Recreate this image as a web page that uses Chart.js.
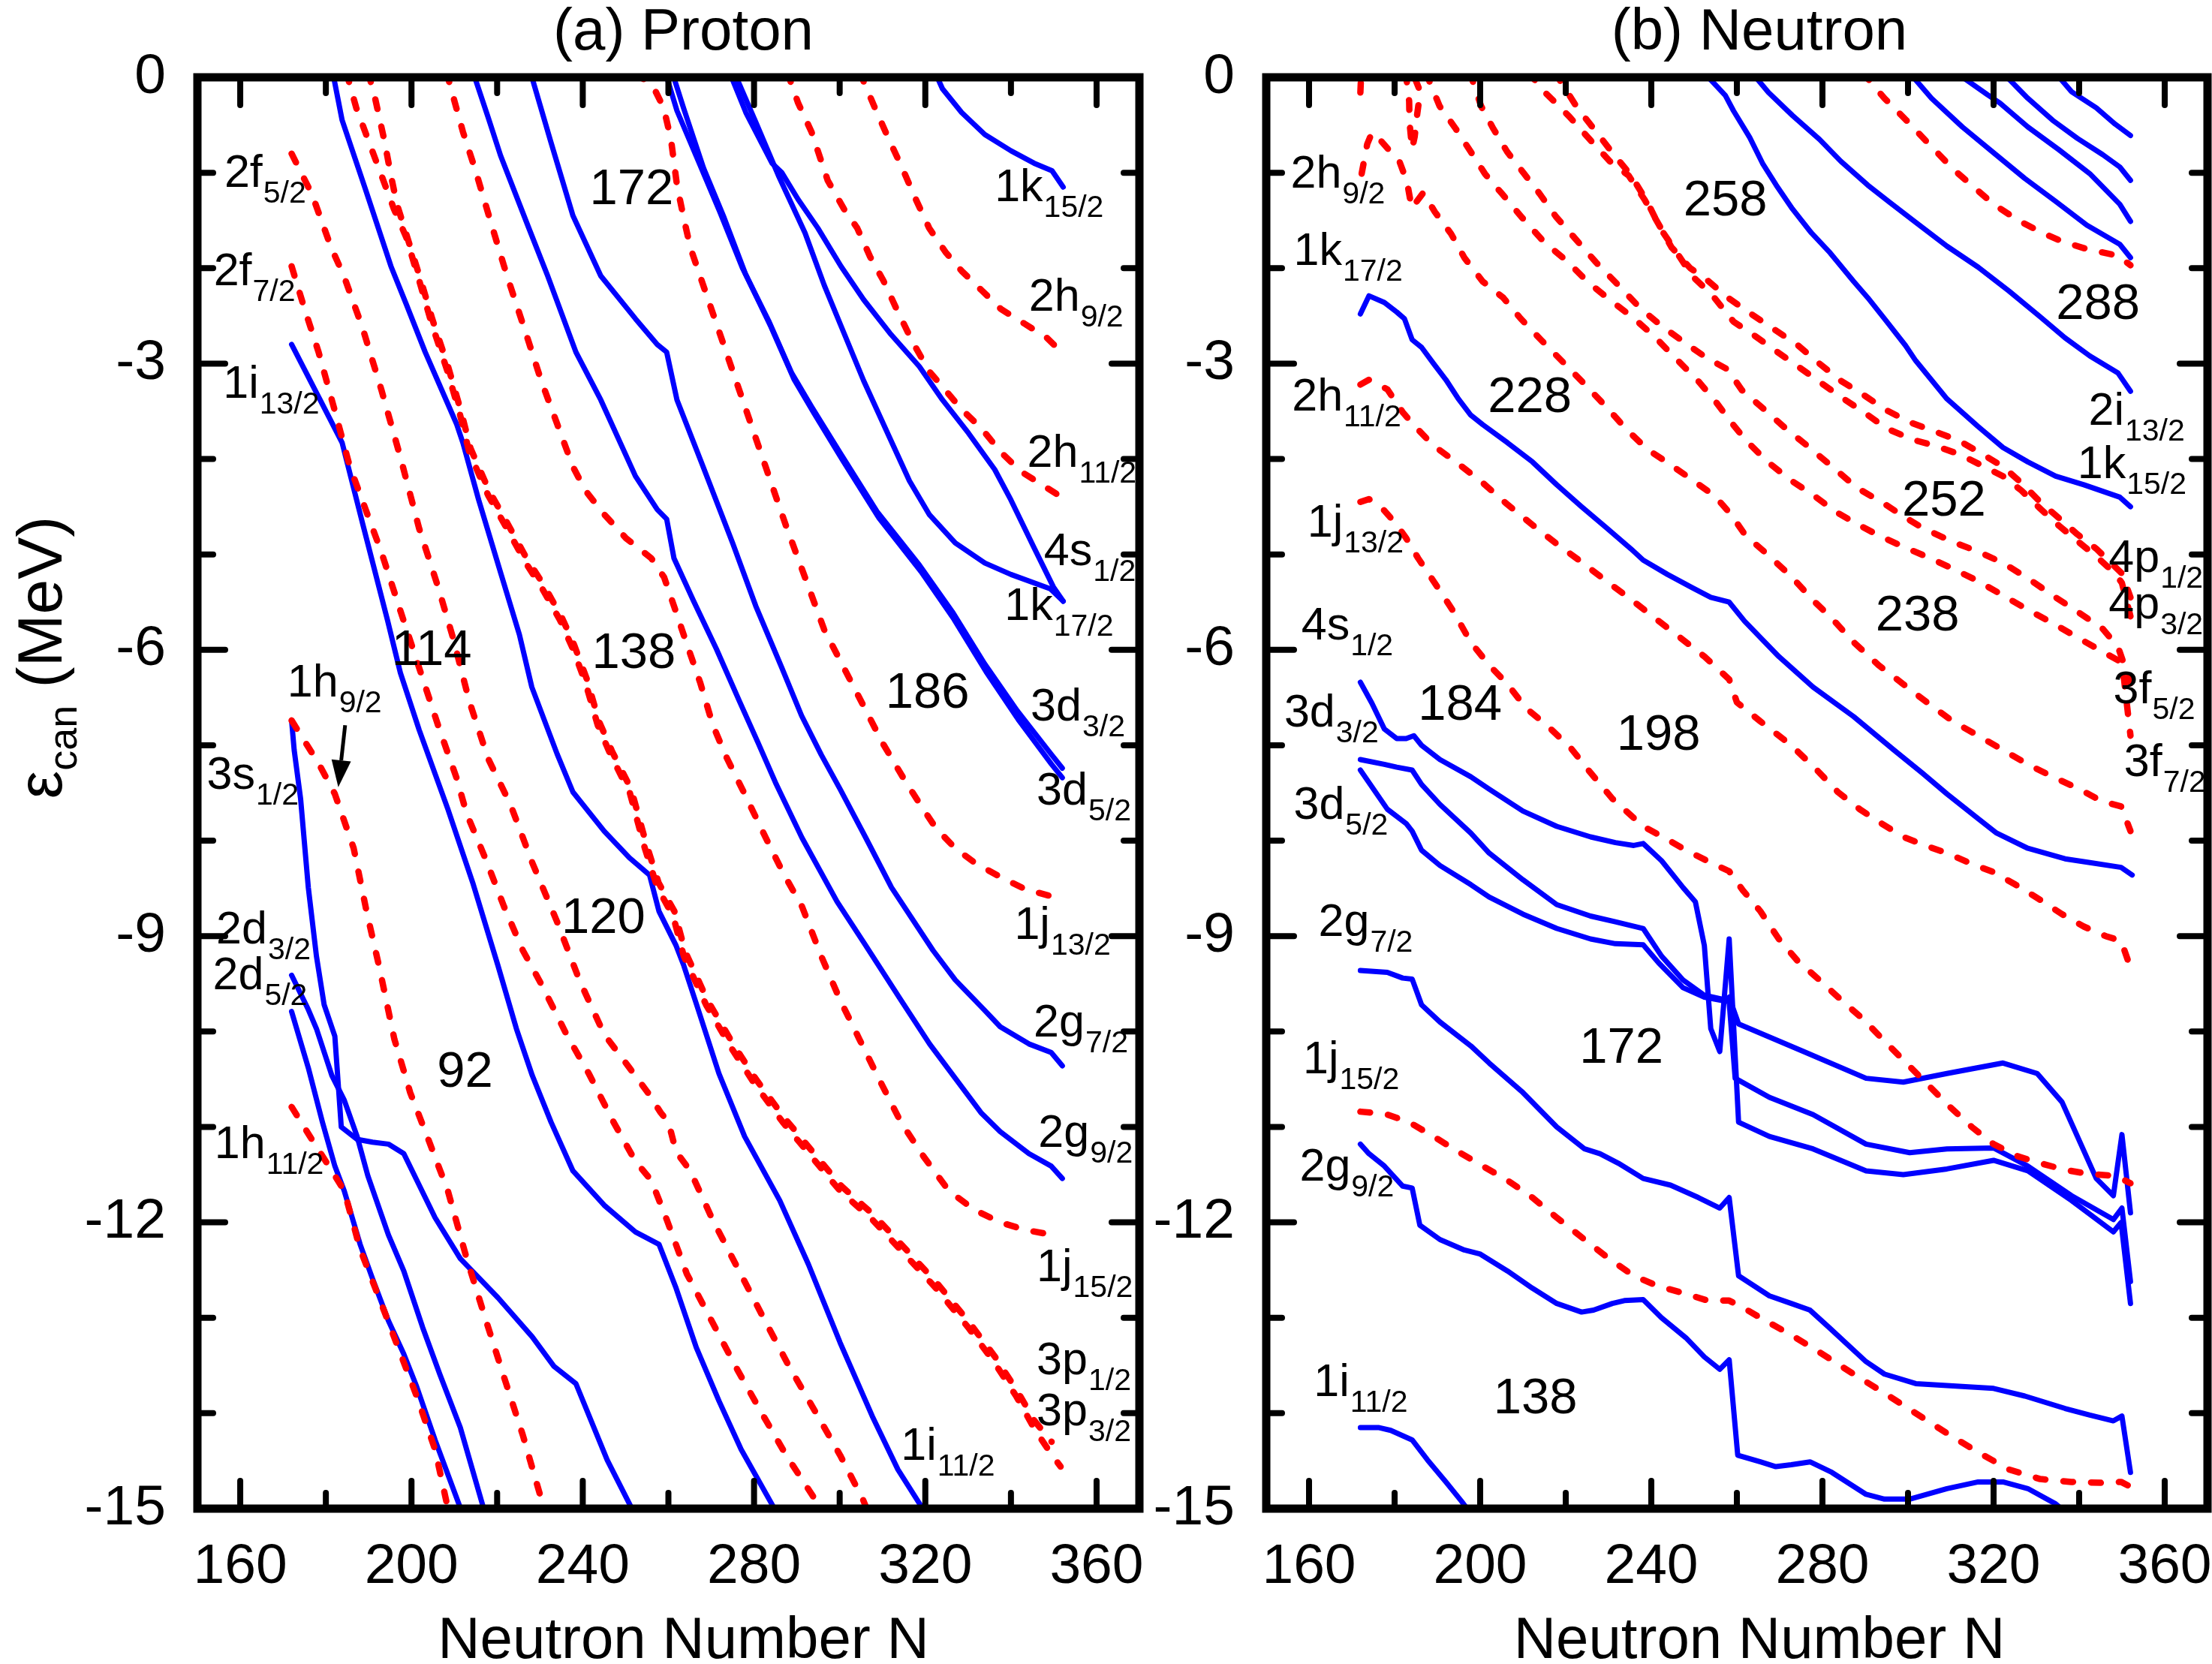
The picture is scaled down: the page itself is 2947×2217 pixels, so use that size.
<!DOCTYPE html>
<html>
<head>
<meta charset="utf-8">
<script src="https://cdn.jsdelivr.net/npm/chart.js@4.4.1/dist/chart.umd.min.js"></script>
<style>
html, body { margin: 0; padding: 0; background: #fff; }
#wrap { position: relative; width: 2947px; height: 2217px; }
canvas { position: absolute; left: 0; top: 0; }
</style>
</head>
<body>
<div id="wrap">
  <canvas id="proton" width="2947" height="2217"></canvas>
  <canvas id="neutron" width="2947" height="2217"></canvas>
</div>
<script>
// tick labels
var xTicks = [160, 200, 240, 280, 320, 360];
var yTicks = [-15, -12, -9, -6, -3, 0];

// ---- (a) proton levels: [N, energy] ----
var p2f52 = [[172,-0.8],[176.8,-1.23],[181.2,-1.78],[184.2,-2.08],[188.6,-2.63],[193,-3.28],[197.4,-3.98],[201.8,-4.73],[206.2,-5.34],[209.8,-5.89],[213.5,-6.54],[217.9,-7.14],[223.1,-7.62],[228.2,-8.23],[234,-8.85],[239.2,-9.46],[245,-10.03],[250.9,-10.38],[255.2,-10.64],[258.2,-10.85],[260,-10.95],[261.8,-11.26],[265.1,-11.46],[270.3,-11.97],[276.3,-12.49],[282.2,-13.0],[288.2,-13.51],[294.9,-14.03],[300.1,-14.44],[305.4,-14.9],[307.2,-15.1]];
var p2f72 = [[172,-1.98],[174.7,-2.38],[178.3,-2.88],[182,-3.48],[185.6,-4.08],[189.3,-4.53],[193,-4.98],[197.4,-5.59],[201.8,-6.19],[206.2,-6.79],[210.5,-7.34],[212.9,-7.72],[217.2,-8.18],[221.6,-8.69],[226,-9.15],[230.4,-9.51],[236.2,-10.03],[241.4,-10.44],[247.2,-10.95],[252.3,-11.36],[256,-11.56],[259.6,-11.97],[264.3,-12.54],[270.3,-13.05],[276.3,-13.56],[282.2,-14.03],[287.5,-14.44],[294.2,-14.9],[296,-15.1]];
var p3p32 = [[184.8,0.05],[187.1,-0.32],[190,-0.67],[193,-1.03],[195.9,-1.38],[198.8,-1.68],[201.8,-2.13],[204.7,-2.58],[208.4,-3.08],[211.3,-3.53],[213.5,-3.93],[217.9,-4.38],[222.3,-4.73],[226.7,-5.09],[230.3,-5.34],[234.7,-5.69],[237.7,-5.99],[240.6,-6.34],[243.5,-6.79],[246.5,-7.1],[251,-7.5],[254.5,-8.08],[257.4,-8.49],[261.1,-8.79],[263.6,-9.21],[268.8,-9.72],[274.8,-10.18],[280,-10.54],[286.7,-10.95],[293.4,-11.31],[300.1,-11.67],[307.6,-11.97],[315.1,-12.33],[322.5,-12.69],[330,-13.1],[336,-13.46],[341.2,-13.82],[345.7,-14.18],[348.7,-14.38],[351.6,-14.56]];
var p3p12 = [[189.9,0.05],[191.5,-0.22],[193.7,-0.67],[195.2,-1.03],[196.6,-1.33],[198.9,-1.66],[202,-2.1],[204.9,-2.54],[208.6,-3.04],[211.5,-3.49],[213.8,-3.89],[218.2,-4.34],[222.6,-4.69],[227,-5.05],[230.6,-5.3],[235,-5.65],[238,-5.95],[240.9,-6.3],[243.8,-6.75],[246.8,-7.06],[251.3,-7.46],[254.8,-8.03],[257.7,-8.44],[261.4,-8.74],[263.9,-9.16],[269.1,-9.67],[275.1,-10.13],[280.3,-10.49],[287,-10.9],[293.7,-11.26],[300.4,-11.62],[307.9,-11.92],[315.4,-12.28],[322.8,-12.64],[330.3,-13.05],[336.3,-13.41],[341.5,-13.77],[345.5,-14.08],[349.5,-14.3]];
var p1j152 = [[208.2,0.05],[212,-0.57],[214.9,-0.97],[218.6,-1.53],[222.3,-2.08],[226.7,-2.68],[230.3,-3.18],[234,-3.63],[237.7,-4.08],[240.6,-4.33],[245,-4.58],[250.1,-4.83],[256,-5.04],[259,-5.24],[261.3,-5.54],[264.3,-5.94],[267.4,-6.34],[270.4,-6.79],[273.5,-7.12],[277.8,-7.51],[282.2,-7.92],[286.7,-8.33],[291.2,-8.69],[295.7,-9.21],[300.1,-9.67],[304.6,-10.08],[309.1,-10.49],[314.3,-10.95],[319.6,-11.31],[325.5,-11.67],[331.5,-11.87],[337.5,-12.0],[343.4,-12.08],[349.6,-12.13]];
var p1j132 = [[252.5,0.05],[256.7,-0.12],[258.9,-0.32],[260.6,-0.65],[262,-1.13],[263.6,-1.48],[265.1,-1.78],[268.9,-2.28],[273.5,-2.88],[278.1,-3.48],[282.7,-4.08],[287.3,-4.68],[291.9,-5.24],[296.4,-5.79],[301,-6.19],[305.6,-6.59],[310.2,-6.99],[315.1,-7.36],[318.8,-7.62],[322.5,-7.87],[327,-8.08],[331.5,-8.23],[337.5,-8.38],[343.4,-8.51],[350.1,-8.59]];
var p2h112 = [[287.8,0.05],[290.3,-0.27],[293.4,-0.57],[297.2,-1.08],[301,-1.38],[304.1,-1.58],[307.1,-1.88],[310.2,-2.13],[313.3,-2.43],[317.1,-2.78],[320.9,-3.08],[324.7,-3.28],[328.5,-3.48],[333.1,-3.68],[337.7,-3.93],[342.3,-4.13],[347.6,-4.28],[352.2,-4.41]];
var p2h92 = [[304.7,0.05],[308.7,-0.37],[311.7,-0.67],[314.8,-0.97],[317.8,-1.28],[320.9,-1.58],[324.7,-1.83],[328.5,-2.03],[333.1,-2.23],[337.7,-2.43],[343.1,-2.58],[348.4,-2.73],[352.2,-2.9]];
var p1h92 = [[172,-6.74],[178.3,-7.19],[182.1,-7.51],[186.5,-8.08],[189.5,-8.74],[192.4,-9.31],[196,-10.08],[199.7,-10.64],[204.1,-11.15],[208.5,-11.67],[212.9,-12.38],[217.2,-13.0],[221.6,-13.62],[226,-14.23],[231.6,-15.1]];
var p1h112 = [[172,-10.79],[176.3,-11.1],[181.4,-11.46],[184.3,-11.67],[188,-12.28],[193.8,-12.95],[201.2,-13.82],[205.5,-14.38],[209,-15.1]];

var p1i132 = [[172,-2.8],[179.8,-3.48],[183.8,-3.83],[188.6,-4.68],[194.4,-5.69],[197.4,-6.24],[201.8,-6.84],[208.5,-7.67],[214.3,-8.44],[220.2,-9.31],[224.5,-9.97],[228.2,-10.46],[232.6,-10.95],[237.7,-11.46],[245,-11.82],[252.3,-12.1],[257.8,-12.23],[261.8,-12.69],[266.5,-13.31],[271.8,-13.87],[277,-14.38],[286,-15.1]];
var p1i112 = [[181.4,0.1],[183.8,-0.45],[189.3,-1.18],[195.2,-1.98],[198.8,-2.38],[203.2,-2.88],[210.5,-3.63],[212,-3.83],[215.7,-4.43],[220.8,-5.19],[225.2,-5.84],[228.1,-6.39],[234,-7.09],[237.7,-7.49],[245,-7.9],[250.9,-8.18],[255.6,-8.36],[257.8,-8.74],[261.8,-9.1],[263.6,-9.31],[266.6,-9.72],[271.8,-10.44],[277.8,-11.1],[286,-11.77],[292.7,-12.44],[300.1,-13.26],[307.6,-14.03],[313.6,-14.59],[320.8,-15.1]];
var p2g92 = [[214.4,0.05],[217.9,-0.42],[220.8,-0.82],[227.4,-1.58],[231.8,-2.08],[238.4,-2.88],[244.2,-3.38],[252.3,-4.18],[257.4,-4.53],[259.6,-4.63],[261.3,-5.04],[265.9,-5.49],[271.2,-5.99],[276.6,-6.54],[281,-6.98],[285.2,-7.41],[291.2,-7.97],[299.4,-8.64],[306.1,-9.1],[314.3,-9.67],[321,-10.13],[327,-10.49],[333,-10.85],[337.5,-11.05],[344.2,-11.28],[349.4,-11.41],[352,-11.54]];
var p2g72 = [[227.8,0.05],[232.5,-0.67],[237.7,-1.45],[244.2,-2.08],[252.3,-2.53],[257.4,-2.8],[259.6,-2.88],[262,-3.38],[268.1,-4.08],[275,-4.88],[280.4,-5.54],[286.5,-6.19],[291.1,-6.69],[295.7,-7.1],[300.1,-7.46],[306.1,-7.97],[312.1,-8.49],[321.8,-9.15],[327,-9.46],[333.7,-9.77],[337.5,-9.95],[344.2,-10.13],[349.4,-10.22],[352,-10.36]];
var p3d32 = [[259.3,0.05],[262,-0.35],[267.2,-0.9],[272,-1.41],[277.3,-2.0],[283.4,-2.55],[288.8,-3.1],[293.4,-3.45],[300.3,-3.95],[308.7,-4.55],[318.6,-5.11],[326.3,-5.6],[333.9,-6.15],[341.5,-6.64],[349.5,-7.1],[352,-7.24]];
var p3d52 = [[260.9,0.05],[263.6,-0.33],[268.2,-0.95],[273,-1.47],[278,-2.06],[284,-2.62],[289.4,-3.17],[294,-3.52],[300.8,-4.02],[309.2,-4.62],[319,-5.18],[326.7,-5.68],[334.2,-6.23],[341.7,-6.73],[349.5,-7.2],[352,-7.34]];
var p4s12 = [[274.3,0.05],[278.1,-0.37],[284.2,-0.9],[286.5,-1.0],[290.3,-1.28],[294.9,-1.58],[300.3,-1.98],[305.6,-2.33],[311.7,-2.68],[318.6,-3.03],[324,-3.38],[330.1,-3.73],[336.2,-4.11],[340,-4.43],[345.4,-4.93],[349.9,-5.34],[352.2,-5.49]];
var p1k172 = [[275.4,0.05],[280.4,-0.47],[285.7,-1.03],[291.9,-1.63],[296.4,-2.18],[301,-2.68],[305.6,-3.18],[311.7,-3.78],[316.3,-4.23],[320.9,-4.58],[327,-4.88],[333.9,-5.09],[340,-5.21],[349.2,-5.36],[352.2,-5.49]];
var p1k152 = [[322.3,0.05],[324,-0.12],[328.5,-0.37],[333.9,-0.6],[340,-0.77],[345.4,-0.9],[349.6,-0.98],[352.2,-1.15]];
var p3s12 = [[172,-6.74],[172.6,-7.05],[174.1,-7.56],[175.9,-8.49],[177.8,-9.21],[179.6,-9.72],[182.1,-10.05],[183.6,-11.0],[187.3,-11.13],[190.9,-11.16],[194.6,-11.18],[198.2,-11.28],[205.5,-11.95],[211.4,-12.38],[220.2,-12.79],[228.2,-13.2],[233.3,-13.51],[238.4,-13.69],[245.7,-14.49],[252.6,-15.1]];
var p2d32 = [[172,-9.41],[175.9,-9.77],[177.8,-9.97],[181.4,-10.46],[184.3,-10.72],[187.3,-11.1],[189.8,-11.51],[194.6,-12.13],[198.2,-12.51],[202.6,-13.1],[206.6,-13.59],[211.4,-14.15],[217.5,-15.1]];
var p2d52 = [[172,-9.79],[175.9,-10.38],[179.2,-10.95],[182.1,-11.41],[184.3,-11.67],[188,-12.23],[190.9,-12.59],[194.6,-13.03],[198.2,-13.38],[201.2,-13.72],[205.5,-14.28],[212.3,-15.1]];

// ---- (b) neutron levels ----
var n2h92 = [[172.3,-1.01],[173.6,-0.7],[174.7,-0.58],[176.5,-0.65],[180,-0.83],[181.2,-0.89],[182.6,-1.06],[183.2,-1.17],[184,-1.37],[186.7,-1.21],[189.4,-1.41],[193.2,-1.64],[196.3,-1.89],[200.6,-2.14],[205.4,-2.31],[209.5,-2.53],[214.4,-2.76],[219.7,-3.0],[224.5,-3.22],[229.6,-3.46],[234.2,-3.69],[239.1,-3.9],[244.2,-4.05],[249.6,-4.22],[254.9,-4.39],[258.6,-4.58],[262,-4.8],[266.9,-4.99],[272.7,-5.23],[277.8,-5.48],[282.2,-5.67],[287.3,-5.92],[293.1,-6.16],[298.9,-6.36],[304.7,-6.56],[310.5,-6.75],[316.4,-6.9],[322.2,-7.05],[328,-7.2],[333.8,-7.33],[339.6,-7.45],[345.5,-7.59],[349.8,-7.64],[352,-7.9]];
var nV = [[182.6,0.05],[183.4,-0.25],[183.5,-0.48],[184.1,-0.75],[184.7,-0.62],[185.3,-0.38],[186,-0.15],[184.2,0.05]];
var nEdge = [[172,-0.16],[172.2,0.05]];
var n3f72 = [[187.3,0.05],[190.5,-0.3],[194.3,-0.54],[197.8,-0.78],[201.1,-1.01],[205.1,-1.22],[209.8,-1.47],[214.8,-1.72],[220.1,-1.92],[225.3,-2.15],[230.8,-2.35],[235.8,-2.52],[240.8,-2.72],[245.8,-2.95],[250.9,-3.18],[254.9,-3.39],[258.4,-3.6],[262.2,-3.81],[267.2,-4.03],[272.5,-4.22],[277.9,-4.38],[283,-4.55],[288,-4.68],[293.1,-4.8],[298.9,-4.92],[304.7,-5.03],[310.5,-5.15],[316.4,-5.28],[322.2,-5.43],[328,-5.58],[333.8,-5.72],[339.6,-5.87],[345.5,-6.02],[349.5,-6.12],[350.5,-6.31],[352,-6.9]];
var n3f52 = [[197.6,0.05],[200.2,-0.3],[203.1,-0.54],[206.3,-0.78],[210.1,-1.0],[213.9,-1.22],[217.7,-1.46],[222.4,-1.7],[227.1,-1.94],[232.1,-2.17],[237.2,-2.41],[242.2,-2.6],[247.5,-2.77],[252.9,-2.94],[257.8,-3.06],[261.2,-3.28],[266.4,-3.48],[271.4,-3.68],[276.7,-3.87],[282,-4.07],[288,-4.3],[294.5,-4.47],[298.9,-4.6],[303.3,-4.72],[310.5,-4.87],[316.4,-4.97],[322.2,-5.09],[328,-5.25],[334.5,-5.45],[339.6,-5.6],[345.5,-5.78],[349.1,-5.97],[352,-6.35]];
var n4p12 = [[211.3,0.05],[215.2,-0.16],[220.8,-0.41],[225.8,-0.66],[230.3,-0.88],[234.7,-1.03],[238.4,-1.28],[241.6,-1.53],[244.7,-1.78],[249.1,-2.0],[252.9,-2.12],[257.9,-2.31],[263,-2.47],[268,-2.62],[274.3,-2.81],[279.3,-3.0],[284.3,-3.18],[290,-3.34],[295,-3.49],[300.7,-3.62],[306.2,-3.71],[312,-3.81],[317.8,-3.96],[322.2,-4.08],[326.5,-4.25],[330.9,-4.45],[335.3,-4.62],[339.6,-4.79],[344,-4.94],[348.4,-5.13],[350,-5.2],[352,-5.45]];
var n4p32 = [[217.5,0.05],[222.7,-0.32],[227.1,-0.57],[230.9,-0.79],[235.3,-1.03],[239.1,-1.31],[242.2,-1.59],[246,-1.84],[249.7,-2.09],[254.2,-2.28],[259.2,-2.56],[264.2,-2.71],[269.2,-2.87],[274.3,-3.03],[279.9,-3.21],[285,-3.37],[290,-3.52],[295,-3.68],[301.3,-3.8],[306.2,-3.86],[312,-3.95],[317.8,-4.08],[322.2,-4.18],[326.5,-4.33],[330.9,-4.52],[335.3,-4.7],[339.6,-4.86],[344,-5.02],[348.4,-5.2],[350,-5.3],[352,-5.65]];
var n2f52 = [[289.4,0.05],[294.5,-0.22],[299.6,-0.45],[304.7,-0.69],[310.5,-0.96],[315.6,-1.16],[320,-1.33],[325.8,-1.5],[330.9,-1.62],[336,-1.72],[341.8,-1.8],[349.1,-1.87],[352,-1.97]];
var n2h112 = [[172,-3.22],[174,-3.17],[178.3,-3.27],[181.9,-3.51],[184.8,-3.66],[189.1,-3.86],[194.9,-4.05],[200.6,-4.25],[206.2,-4.47],[212.2,-4.69],[217.9,-4.89],[223.7,-5.08],[229.5,-5.28],[235.2,-5.47],[240.9,-5.67],[246.7,-5.87],[252.4,-6.07],[258.2,-6.31],[260,-6.55],[265.5,-6.75],[272.7,-7.0],[278.5,-7.25],[283.6,-7.49],[288.7,-7.67],[293.8,-7.82],[298.9,-7.96],[304,-8.05],[309.1,-8.13],[314.2,-8.23],[320,-8.33],[325.1,-8.46],[330.9,-8.62],[336,-8.77],[341.1,-8.9],[346.2,-9.0],[349.8,-9.05],[352,-9.33]];
var n1j132 = [[172,-4.45],[174,-4.42],[177.6,-4.54],[180.5,-4.69],[182.7,-4.83],[185.5,-5.04],[189.1,-5.28],[193.5,-5.58],[197.8,-5.92],[202.1,-6.16],[206.4,-6.36],[210.7,-6.61],[215.8,-6.8],[221.2,-7.03],[225.1,-7.25],[230.9,-7.56],[238.1,-7.85],[243.1,-7.97],[248.1,-8.1],[253.9,-8.23],[258.2,-8.32],[261.4,-8.52],[265.5,-8.74],[269.8,-9.03],[274.2,-9.26],[279.3,-9.46],[284.4,-9.67],[289.5,-9.87],[294.5,-10.1],[299.6,-10.33],[304.7,-10.56],[309.8,-10.79],[314.9,-11.0],[320,-11.18],[325.8,-11.31],[330.9,-11.38],[336.7,-11.45],[341.8,-11.49],[347.6,-11.51],[349.8,-11.54],[352,-11.59]];
var n1j152 = [[172,-10.84],[177.6,-10.86],[183.4,-10.95],[189.1,-11.1],[194.9,-11.26],[200.6,-11.41],[206.4,-11.56],[212.2,-11.74],[217.9,-11.95],[224.4,-12.18],[230.1,-12.38],[235.9,-12.56],[241.7,-12.67],[247.4,-12.74],[253.2,-12.82],[258.2,-12.82],[261.7,-12.9],[265.5,-13.0],[272.7,-13.18],[280,-13.38],[287.3,-13.59],[294.5,-13.79],[301.8,-14.0],[309.1,-14.21],[316.4,-14.41],[323.6,-14.59],[330.9,-14.69],[338.2,-14.72],[345.5,-14.73],[349.8,-14.72],[352,-14.77]];

var n1k172 = [[172,-2.48],[174,-2.29],[177.6,-2.36],[180.5,-2.46],[182.3,-2.53],[184.1,-2.75],[186.3,-2.83],[189.1,-3.0],[192,-3.17],[194.9,-3.37],[197.8,-3.54],[200.6,-3.64],[206.4,-3.83],[212.2,-4.03],[217.9,-4.27],[223.7,-4.5],[229.5,-4.72],[235.2,-4.94],[238.1,-5.06],[243.8,-5.21],[249.6,-5.35],[253.9,-5.45],[258.2,-5.5],[261.8,-5.7],[269.8,-6.07],[277.8,-6.39],[287.3,-6.7],[296.7,-7.05],[303.3,-7.29],[309.1,-7.51],[316.4,-7.77],[320.7,-7.92],[328,-8.08],[336.7,-8.19],[342.5,-8.23],[349.8,-8.28],[352.4,-8.36]];
var n1k152 = [[252.3,0.05],[257.3,-0.19],[259.2,-0.35],[263,-0.63],[266.1,-0.91],[269.2,-1.13],[273,-1.38],[277.4,-1.63],[281.8,-1.84],[287.3,-2.14],[290.6,-2.31],[294.5,-2.53],[299.4,-2.81],[301.8,-2.97],[309.1,-3.37],[316.4,-3.66],[322.2,-3.88],[328,-4.03],[334.5,-4.18],[341.1,-4.27],[349.5,-4.4],[352,-4.5]];
var n2i132 = [[263.5,0.05],[267.4,-0.16],[273,-0.4],[279.3,-0.65],[284.3,-0.88],[290.6,-1.13],[295.7,-1.31],[301.8,-1.52],[309.1,-1.77],[316.4,-1.99],[323.6,-2.24],[330.9,-2.51],[336.7,-2.73],[342.5,-2.92],[349.1,-3.1],[352,-3.29]];
var n3g92 = [[300.3,0.05],[305.5,-0.22],[312.7,-0.52],[320,-0.79],[327.3,-1.06],[334.5,-1.3],[341.8,-1.55],[349.5,-1.75],[352,-1.89]];
var n2j132 = [[311.2,0.05],[318.5,-0.18],[321.5,-0.27],[328,-0.52],[335.3,-0.76],[342.5,-1.01],[349.5,-1.33],[352,-1.51]];
var n1l192 = [[322.1,0.05],[328,-0.22],[333.8,-0.45],[339.6,-0.64],[345.5,-0.81],[349.5,-0.94],[352,-1.08]];
var n2j152 = [[334.4,0.05],[338.2,-0.15],[344,-0.32],[348.4,-0.49],[352,-0.61]];
var n4s12 = [[172,-6.34],[174.7,-6.56],[177.6,-6.83],[180.5,-6.93],[182.7,-6.93],[184.5,-6.9],[186.3,-7.0],[190.6,-7.15],[197.8,-7.33],[202.1,-7.46],[210,-7.69],[217.9,-7.85],[225.8,-7.96],[231.6,-8.02],[235.9,-8.05],[238.1,-8.03],[242.4,-8.21],[247.4,-8.49],[250.3,-8.64],[252.4,-9.1],[253.9,-9.97],[256,-10.21],[258.2,-9.03],[260.4,-10.95],[267.6,-11.1],[277.8,-11.23],[290.2,-11.46],[298.9,-11.5],[309.1,-11.44],[320,-11.35],[328,-11.46],[338.2,-11.77],[348,-12.1],[349.8,-12.0],[352,-12.85]];
var n3d32 = [[172,-7.15],[177.6,-7.2],[180.5,-7.23],[184.1,-7.26],[186.3,-7.41],[190.6,-7.62],[197.8,-7.92],[202.1,-8.13],[210,-8.41],[217.9,-8.67],[225.8,-8.79],[231.6,-8.85],[238.1,-8.92],[242.4,-9.21],[247.4,-9.46],[252.4,-9.62],[257.5,-9.67],[258.2,-9.64],[260.4,-9.92],[275.6,-10.21],[290.2,-10.49],[298.9,-10.53],[309.1,-10.44],[322.2,-10.33],[330.2,-10.44],[336,-10.74],[344,-11.54],[348,-11.72],[350,-11.08],[352,-11.9]];
var n3d52 = [[172,-7.26],[178.3,-7.67],[182.7,-7.82],[184.1,-7.9],[186.3,-8.1],[190.6,-8.26],[197.8,-8.46],[202.1,-8.59],[210,-8.77],[217.9,-8.92],[225.8,-9.03],[231.6,-9.08],[238.1,-9.09],[241.7,-9.28],[247.4,-9.54],[252.4,-9.64],[258.2,-9.69],[259.6,-10.49],[267.6,-10.69],[277.8,-10.87],[290.2,-11.18],[300.4,-11.27],[309.1,-11.23],[320,-11.22],[328,-11.41],[338.2,-11.72],[348,-11.97],[350,-11.85],[352,-12.62]];
var n2g72 = [[172,-9.36],[178.3,-9.38],[181.9,-9.44],[184.1,-9.45],[186.3,-9.72],[190.6,-9.9],[197.8,-10.15],[202.1,-10.33],[210,-10.64],[217.9,-11.0],[224.4,-11.23],[228,-11.28],[232.3,-11.38],[238.1,-11.54],[244.5,-11.61],[251,-11.74],[256,-11.85],[258.2,-11.74],[260.4,-12.56],[267.6,-12.77],[272.7,-12.85],[277.1,-12.92],[281.5,-13.1],[290.2,-13.46],[294.5,-13.59],[301.8,-13.69],[312.7,-13.72],[320,-13.74],[327.3,-13.82],[336.7,-13.95],[342.5,-14.02],[348,-14.08],[350,-14.03],[352,-14.62]];
var n2g92 = [[172,-11.18],[174,-11.28],[177.6,-11.41],[181.9,-11.62],[184.1,-11.64],[185.9,-12.03],[190.6,-12.18],[196.3,-12.29],[199.9,-12.33],[206.4,-12.51],[212.2,-12.69],[217.9,-12.85],[223.7,-12.94],[226.5,-12.92],[230.9,-12.85],[233.7,-12.82],[238.1,-12.81],[242.4,-13.0],[248.1,-13.21],[252.4,-13.41],[256,-13.54],[258.2,-13.44],[260.2,-14.44],[265.5,-14.51],[269.1,-14.56],[272.7,-14.54],[277.1,-14.51],[282.2,-14.62],[290.2,-14.85],[294.5,-14.9],[300.4,-14.9],[309.1,-14.79],[316.4,-14.72],[322.2,-14.72],[328,-14.79],[334.5,-14.95],[338.5,-15.1]];
var n1i112 = [[172,-14.15],[176.2,-14.15],[179.1,-14.18],[184.1,-14.28],[187.7,-14.49],[192,-14.72],[195.6,-14.92],[198.6,-15.1]];

// level names [main, subscript, N, E]
var protonNames = [
  ['2f','5/2',156.3,-1.15], ['2f','7/2',153.8,-2.18], ['1i','13/2',156,-3.36], ['1h','9/2',171,-6.49],
  ['3s','1/2',152.2,-7.46], ['2d','3/2',154.4,-9.08], ['2d','5/2',153.6,-9.56], ['1h','11/2',154,-11.33],
  ['1k','15/2',336.2,-1.3], ['2h','9/2',344.2,-2.45], ['2h','11/2',343.8,-4.08], ['4s','1/2',347.7,-5.11],
  ['1k','17/2',338.5,-5.69], ['3d','3/2',344.6,-6.74], ['3d','5/2',346,-7.62], ['1j','13/2',340.8,-9.03],
  ['2g','7/2',345.3,-10.05], ['2g','9/2',346.4,-11.21], ['1j','15/2',346,-12.62], ['3p','1/2',346,-13.59],
  ['3p','3/2',346,-14.13], ['1i','11/2',314.3,-14.49]
];
var neutronNames = [
  ['2h','9/2',155.7,-1.16], ['1k','17/2',156.4,-1.97], ['2h','11/2',156,-3.49], ['1j','13/2',159.6,-4.81],
  ['4s','1/2',158.2,-5.89], ['3d','3/2',154.2,-6.8], ['3d','5/2',156.4,-7.77], ['2g','7/2',162.2,-9.0],
  ['1j','15/2',158.6,-10.44], ['2g','9/2',157.8,-11.56], ['1i','11/2',161.1,-13.82],
  ['2i','13/2',342.2,-3.64], ['1k','15/2',339.6,-4.2], ['4p','1/2',346.9,-5.18], ['4p','3/2',346.9,-5.67],
  ['3f','5/2',348,-6.56], ['3f','7/2',350.5,-7.32]
];
// shell gaps [text, N, E]
var protonGaps = [['172',251.4,-1.33],['114',204.7,-6.16],['138',251.9,-6.19],['186',320.5,-6.61],['120',244.8,-8.97],['92',212.5,-10.58]];
var neutronGaps = [['258',257.3,-1.45],['288',344.4,-2.53],['228',211.6,-3.51],['252',308.4,-4.59],['238',302.2,-5.8],['184',195.3,-6.73],['198',241.7,-7.05],['172',233,-10.33],['138',212.9,-14.0]];

var FAM = '"Liberation Sans", Arial, Helvetica, sans-serif';
var RED = '#ff0000', BLUE = '#0000ff';

// frame, inward ticks, titles and level names
var panelDecor = {
  id: 'panelDecor',
  afterDatasetsDraw: function (chart, args, o) {
    var ctx = chart.ctx, a = chart.chartArea, xs = chart.scales.x, ys = chart.scales.y;
    var X = function (v) { return xs.getPixelForValue(v); };
    var Y = function (v) { return ys.getPixelForValue(v); };
    ctx.save();
    ctx.fillStyle = '#000';
    ctx.strokeStyle = '#000';
    ctx.textBaseline = 'alphabetic';

    o.names.forEach(function (l) {
      var px = X(l[2]), py = Y(l[3]);
      ctx.textAlign = 'left';
      ctx.font = '61px ' + FAM;
      ctx.fillText(l[0], px, py);
      var w = ctx.measureText(l[0]).width;
      ctx.font = '41px ' + FAM;
      ctx.fillText(l[1], px + w + 1, py + 21);
    });

    ctx.font = '67px ' + FAM;
    ctx.textAlign = 'center';
    o.gaps.forEach(function (g) { ctx.fillText(g[0], X(g[1]), Y(g[2])); });

    if (o.arrow) {
      var x1 = X(o.arrow[0]), y1 = Y(o.arrow[1]), x2 = X(o.arrow[2]), y2 = Y(o.arrow[3]);
      var ang = Math.atan2(y2 - y1, x2 - x1), hl = 36, hw = 13;
      var bx = x2 - hl * Math.cos(ang), by = y2 - hl * Math.sin(ang);
      ctx.lineWidth = 5;
      ctx.beginPath(); ctx.moveTo(x1, y1); ctx.lineTo(bx, by); ctx.stroke();
      ctx.beginPath();
      ctx.moveTo(x2, y2);
      ctx.lineTo(bx + hw * Math.sin(ang), by - hw * Math.cos(ang));
      ctx.lineTo(bx - hw * Math.sin(ang), by + hw * Math.cos(ang));
      ctx.closePath(); ctx.fill();
    }

    // ticks point inwards on all four sides
    ctx.lineWidth = 8;
    ctx.lineCap = 'round';
    ctx.beginPath();
    for (var v = 160; v <= 360; v += 20) {
      var px = X(v), len = (v % 40 === 0) ? 37 : 21;
      ctx.moveTo(px, a.bottom); ctx.lineTo(px, a.bottom - len);
      ctx.moveTo(px, a.top); ctx.lineTo(px, a.top + len);
    }
    for (var e = -14; e <= -1; e++) {
      var py = Y(e), ln = (e % 3 === 0) ? 37 : 21;
      ctx.moveTo(a.left, py); ctx.lineTo(a.left + ln, py);
      ctx.moveTo(a.right, py); ctx.lineTo(a.right - ln, py);
    }
    ctx.stroke();
    ctx.lineCap = 'butt';
    ctx.lineWidth = 11;
    ctx.strokeRect(a.left, a.top, a.right - a.left, a.bottom - a.top);

    var cx = (a.left + a.right) / 2;
    ctx.font = '78px ' + FAM;
    ctx.textAlign = 'center';
    ctx.fillText(o.title, cx + o.shift, 66);
    ctx.fillText('Neutron Number N', cx + o.shift, 2209);

    if (o.yTitle) {
      ctx.save();
      ctx.translate(82, 876);
      ctx.rotate(-Math.PI / 2);
      ctx.textAlign = 'left';
      ctx.font = '84px ' + FAM;
      var w1 = ctx.measureText('\u03b5').width, w3 = ctx.measureText(' (MeV)').width;
      ctx.font = '54px ' + FAM;
      var w2 = ctx.measureText('can').width;
      var sx = -(w1 + w2 + w3) / 2;
      ctx.font = '84px ' + FAM; ctx.fillText('\u03b5', sx, 0); sx += w1;
      ctx.font = '54px ' + FAM; ctx.fillText('can', sx, 20); sx += w2;
      ctx.font = '84px ' + FAM; ctx.fillText(' (MeV)', sx, 0);
      ctx.restore();
    }
    ctx.restore();
  }
};

function toSet(pts, red) {
  return {
    data: pts.map(function (p) { return { x: p[0], y: p[1] }; }),
    borderColor: red ? RED : BLUE,
    borderWidth: red ? 8.5 : 7,
    borderDash: red ? [13, 24] : [],
    borderCapStyle: 'round',
    borderJoinStyle: 'round',
    pointRadius: 0,
    tension: 0,
    fill: false
  };
}

function makePanel(id, reds, blues, pad, decor) {
  var sets = reds.map(function (s) { return toSet(s, true); })
    .concat(blues.map(function (s) { return toSet(s, false); }));
  return new Chart(document.getElementById(id), {
    type: 'line',
    data: { datasets: sets },
    options: {
      responsive: false,
      animation: false,
      devicePixelRatio: 1,
      layout: { padding: pad },
      plugins: { legend: { display: false }, tooltip: { enabled: false }, panelDecor: decor },
      scales: {
        x: {
          type: 'linear', min: 150, max: 370,
          afterBuildTicks: function (s) { s.ticks = xTicks.map(function (v) { return { value: v }; }); },
          afterFit: function (s) { s.height = 207; s.paddingLeft = 0; s.paddingRight = 0; },
          grid: { display: false, drawTicks: false },
          border: { display: false },
          ticks: { color: '#000', font: { size: 75, family: FAM }, padding: 33, maxRotation: 0, autoSkip: false,
                   callback: function (v) { return String(v); } }
        },
        y: {
          type: 'linear', min: -15, max: 0,
          afterBuildTicks: function (s) { s.ticks = yTicks.map(function (v) { return { value: v }; }); },
          afterFit: function (s) { s.width = 263; s.paddingTop = 0; s.paddingBottom = 0; },
          grid: { display: false, drawTicks: false },
          border: { display: false },
          ticks: { color: '#000', font: { size: 75, family: FAM }, padding: 42, autoSkip: false,
                   callback: function (v) { return String(v); } }
        }
      }
    },
    plugins: [panelDecor]
  });
}

makePanel('proton',
  [p2f52, p2f72, p3p32, p3p12, p1j152, p1j132, p2h112, p2h92, p1h92, p1h112],
  [p1i132, p1i112, p2g92, p2g72, p3d32, p3d52, p4s12, p1k172, p1k152, p3s12, p2d32, p2d52],
  { left: 0, right: 1429, top: 103, bottom: 0 },
  { title: '(a) Proton', shift: 20, names: protonNames, gaps: protonGaps, arrow: [184.5, -6.79, 182.9, -7.44], yTitle: true });

makePanel('neutron',
  [n2h92, nV, nEdge, n3f72, n3f52, n4p12, n4p32, n2f52, n2h112, n1j132, n1j152],
  [n1k172, n1k152, n2i132, n3g92, n2j132, n1l192, n2j152, n4s12, n3d32, n3d52, n2g72, n2g92, n1i112],
  { left: 1424, right: 6, top: 103, bottom: 0 },
  { title: '(b) Neutron', shift: 30, names: neutronNames, gaps: neutronGaps, arrow: null, yTitle: false });
</script>
</body>
</html>
